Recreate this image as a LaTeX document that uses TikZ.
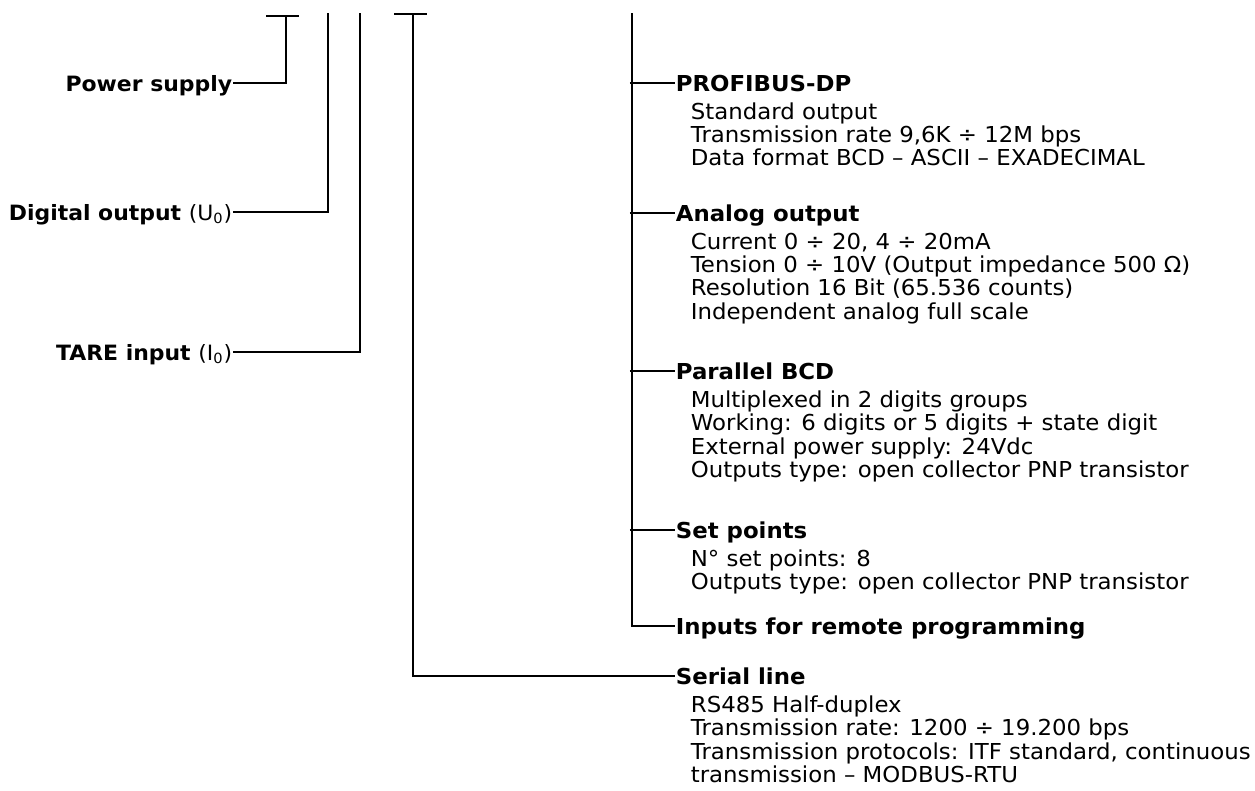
\documentclass[tikz,border=0pt]{standalone}
\usepackage{fontspec}
\setmainfont{DejaVu Sans}[FakeStretch=1.04]
\usetikzlibrary{positioning}

\begin{document}
\begin{tikzpicture}[x=0.02cm, y=-0.02cm, font=\fontsize{12.5}{13.3}\selectfont, line width=1pt]
    \tikzset{
      head/.style={font=\fontsize{12.5}{13.3}\selectfont\bfseries, inner sep=0pt, text depth=0pt},
      side/.style={head, font=\fontsize{12}{13}\selectfont\bfseries, anchor=east},
      desc/.style={inner sep=0pt, align=left, anchor=north west, xshift=0.3cm}
    }
    \useasboundingbox (0,0) rectangle (1255,791);

    % Left labels
    \node[side] (ps) at (233,83) {Power supply};
    \node[side] (dout) at (233,212) {Digital output {\normalfont (U\textsubscript{0})}};
    \node[side] (tare) at (233,352) {TARE input {\normalfont (I\textsubscript{0})}};

    \coordinate (pstop) at (286,16);
    \coordinate (douttop) at (328,13);
    \coordinate (taretop) at (360,13);
    \draw (266,16) -- (299,16);
    \draw (ps.east) -- (ps.east -| pstop) -- (pstop);
    \draw (dout.east) -- (dout.east -| douttop) -- (douttop);
    \draw (tare.east) -- (tare.east -| taretop) -- (taretop);

    % Bus headings
    \node[head, anchor=west] (pb) at (675,83) {PROFIBUS-DP};
    \node[below=5.5pt of pb.south west, desc] (pbd) {Standard output\\Transmission rate 9,6K ÷ 12M bps\\Data format BCD – ASCII – EXADECIMAL};

    \node[head, anchor=west] (ao) at (675,213) {Analog output};
    \node[below=5.5pt of ao.south west, desc] (aod) {Current 0 ÷ 20, 4 ÷ 20mA\\Tension 0 ÷ 10V (Output impedance 500 Ω)\\Resolution 16 Bit (65.536 counts)\\Independent analog full scale};

    \node[head, anchor=west] (bcd) at (675,371) {Parallel BCD};
    \node[below=5.5pt of bcd.south west, desc] (bcdd) {Multiplexed in 2 digits groups\\Working: 6 digits or 5 digits + state digit\\External power supply: 24Vdc\\Outputs type: open collector PNP transistor};

    \node[head, anchor=west] (sp) at (675,530) {Set points};
    \node[below=5.5pt of sp.south west, desc] (spd) {N° set points: 8\\Outputs type: open collector PNP transistor};

    \node[head, anchor=west] (inp) at (675,626) {Inputs for remote programming};

    \coordinate (bustop) at (632,13);
    \draw (bustop) -- (bustop |- inp.west) -- (inp.west);
    \foreach \n in {pb,ao,bcd,sp}
      \draw ([xshift=-1.2pt]bustop |- \n.west) -- (\n.west);

    % Serial line
    \node[head, anchor=west] (ser) at (675,676) {Serial line};
    \node[below=5.5pt of ser.south west, desc] (serd) {RS485 Half-duplex\\Transmission rate: 1200 ÷ 19.200 bps\\Transmission protocols: ITF standard, continuous\\transmission – MODBUS-RTU};

    \coordinate (sertop) at (413,14);
    \draw (394,14) -- (427,14);
    \draw (sertop) -- (sertop |- ser.west) -- (ser.west);
\end{tikzpicture}
\end{document}
